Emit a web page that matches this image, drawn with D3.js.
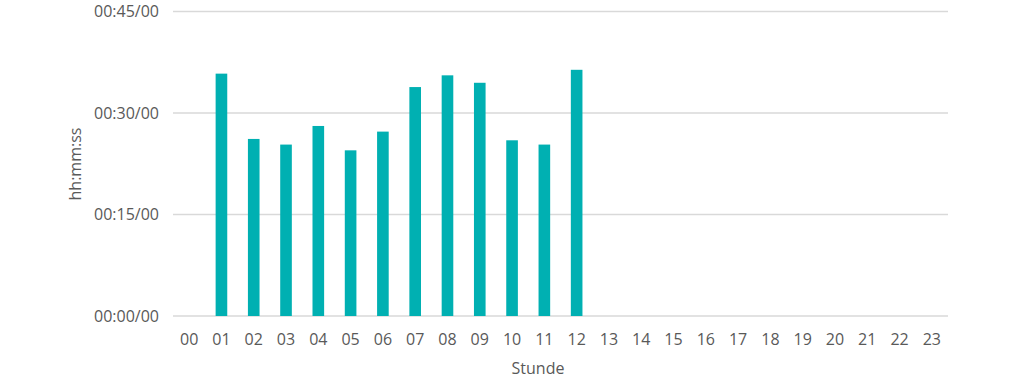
<!DOCTYPE html>
<html><head><meta charset="utf-8">
<script src="https://cdn.jsdelivr.net/npm/d3@7"></script>
<style>body{margin:0;background:#fff;} text{font-family:"Open Sans",sans-serif;fill:#595959;}</style>
</head><body>
<svg id="c" width="1024" height="381"></svg>
<script>
const categories = ["00","01","02","03","04","05","06","07","08","09","10","11","12","13","14","15","16","17","18","19","20","21","22","23"];
// average duration in seconds per hour (null = no data)
const durations = [null,2149,1570,1520,1685,1469,1635,2030,2134,2068,1558,1520,2183,null,null,null,null,null,null,null,null,null,null,null];
const yTicks = [0,900,1800,2700];
const yTickLabels = ["00:00/00","00:15/00","00:30/00","00:45/00"];

const svg = d3.select("#c");
const m = {l:173,r:1024-948,t:11.5,b:381-316};
const x = d3.scaleBand().domain(categories).range([m.l,948]).paddingInner(0.64).paddingOuter(0.32);
const y = d3.scaleLinear().domain([0,2700]).range([316,11.5]);

svg.append("g").selectAll("line").data(yTicks).join("line")
 .attr("x1",m.l).attr("x2",948).attr("y1",d=>y(d)).attr("y2",d=>y(d))
 .attr("stroke","#d9d9d9").attr("stroke-width",1.5);

svg.append("g").selectAll("text").data(yTicks).join("text")
 .attr("x",159).attr("y",d=>y(d)).attr("dy","0.35em").attr("text-anchor","end")
 .attr("font-size",16).text((d,i)=>yTickLabels[i]);

svg.append("g").selectAll("rect").data(categories.map((c,i)=>({c,v:durations[i]})).filter(d=>d.v!=null)).join("rect")
 .attr("x",d=>x(d.c)).attr("width",x.bandwidth()).attr("y",d=>y(d.v)).attr("height",d=>316-y(d.v))
 .attr("fill","#00b0b2");

svg.append("g").selectAll("text").data(categories).join("text")
 .attr("x",d=>x(d)+x.bandwidth()/2).attr("y",339).attr("dy","0.35em").attr("text-anchor","middle")
 .attr("font-size",16).text(d=>d);

svg.append("text").attr("x",538).attr("y",368).attr("dy","0.35em").attr("text-anchor","middle")
 .attr("font-size",16).text("Stunde");
svg.append("text").attr("transform","translate(75,164) rotate(-90)").attr("dy","0.35em").attr("text-anchor","middle")
 .attr("font-size",16).text("hh:mm:ss");
</script>
</body></html>
